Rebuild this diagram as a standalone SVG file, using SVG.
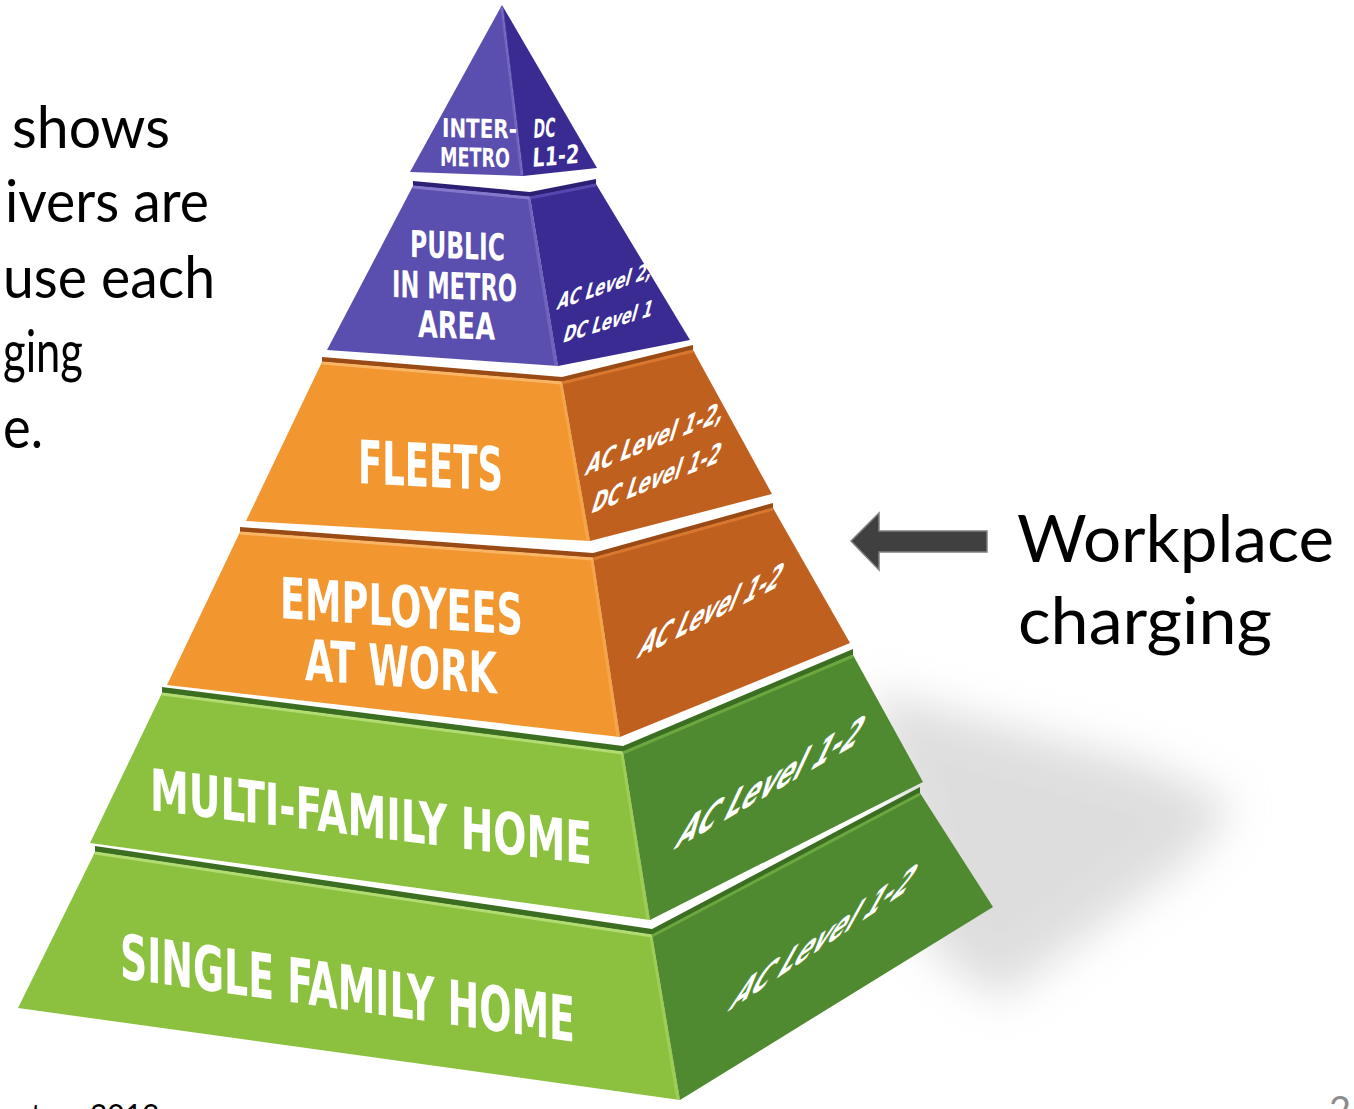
<svg xmlns="http://www.w3.org/2000/svg" width="1354" height="1109" viewBox="0 0 1354 1109">
<defs>
<style>
.lbl{font-family:"Liberation Sans Narrow","DejaVu Sans Condensed","Roboto","Liberation Sans",sans-serif;font-weight:bold;font-stretch:condensed;fill:#ffffff}
.body{font-family:Lato,"Open Sans","Liberation Sans",sans-serif;fill:#000000}
.pf{fill:#5a4eae}.pr{fill:#3a2b93}.pt{fill:#2c2075}
.of{fill:#f2962f}.or{fill:#c0601f}.ot{fill:#9a4a14}
.gf{fill:#8cc13f}.gr{fill:#4f8a30}.gt{fill:#3c6e22}
.hl{fill:none;stroke-width:3;stroke-linejoin:round}
.ridge{fill:none;stroke-width:3;opacity:.45}
</style>
<filter id="blur" x="-30%" y="-30%" width="160%" height="160%"><feGaussianBlur stdDeviation="22"/></filter>
</defs>
<rect width="1354" height="1109" fill="#ffffff"/>

<g id="shadow">
<polygon points="870,690 1150,765 1235,805 1190,860 1000,1000 930,950" fill="#bdbdbd" opacity="0.5" filter="url(#blur)"/>
</g>

<g id="tier-singlefamily">
<polygon class="gt" points="95,846 652,929 920,787 920,793 652,935 95,852"/>
<polygon class="gf" points="95,852 652,935 680,1100 18,1008"/>
<polygon class="gr" points="652,935 920,793 993,907 680,1100"/>
<polyline class="hl" stroke="#b2db72" points="95,853 652,936"/>
<polyline class="hl" stroke="#6aa83f" points="652,936 920,794"/>
<line class="ridge" stroke="#b2db72" x1="651" y1="937" x2="678" y2="1100"/>
<text class="lbl" font-size="50" textLength="215" lengthAdjust="spacingAndGlyphs" transform="translate(727,1012) matrix(0.829,-0.5592,-0.4848,0.8746,0,0)">AC Level 1-2</text>
<text class="lbl" font-size="62" textLength="455" lengthAdjust="spacingAndGlyphs" transform="translate(120,978) skewY(8)">SINGLE FAMILY HOME</text>
</g>

<g id="tier-multifamily">
<polygon class="gt" points="162,687 623,746 853,649 853,655 623,752 162,693"/>
<polygon class="gf" points="162,693 623,752 650,920 90,843"/>
<polygon class="gr" points="623,752 853,655 923,782 650,920"/>
<polyline class="hl" stroke="#b2db72" points="162,694 623,753"/>
<polyline class="hl" stroke="#6aa83f" points="623,753 853,656"/>
<line class="ridge" stroke="#b2db72" x1="622" y1="754" x2="648" y2="920"/>
<text class="lbl" font-size="58" textLength="442" lengthAdjust="spacingAndGlyphs" transform="translate(150,810) skewY(7)">MULTI-FAMILY HOME</text>
<text class="lbl" font-size="50" textLength="210" lengthAdjust="spacingAndGlyphs" transform="translate(673,850) matrix(0.866,-0.5,-0.4226,0.9063,0,0)">AC Level 1-2</text>
</g>

<g id="tier-employees">
<polygon class="ot" points="240,527 593,553 773,503 773,508 593,558 240,532"/>
<polygon class="of" points="240,532 593,558 620,737 167,685"/>
<polygon class="or" points="593,558 773,508 850,643 620,737"/>
<polyline class="hl" stroke="#f9b565" points="240,533 593,559"/>
<polyline class="hl" stroke="#d9772e" points="593,559 773,509"/>
<line class="ridge" stroke="#f9b565" x1="592" y1="560" x2="618" y2="737"/>
<text class="lbl" font-size="57" textLength="243" lengthAdjust="spacingAndGlyphs" transform="translate(280,618) skewY(4)">EMPLOYEES</text>
<text class="lbl" font-size="57" textLength="192" lengthAdjust="spacingAndGlyphs" transform="translate(305,680) skewY(4)">AT WORK</text>
<text class="lbl" font-size="40" textLength="158" lengthAdjust="spacingAndGlyphs" transform="translate(636,659) matrix(0.891,-0.454,-0.3746,0.9272,0,0)">AC Level 1-2</text>
</g>

<g id="tier-fleets">
<polygon class="ot" points="322,357 562,377 693,345 693,350 562,382 322,362"/>
<polygon class="of" points="322,362 562,382 590,541 246,521"/>
<polygon class="or" points="562,382 693,350 772,494 590,541"/>
<polyline class="hl" stroke="#f9b565" points="322,363 562,383"/>
<polyline class="hl" stroke="#d9772e" points="562,383 693,351"/>
<line class="ridge" stroke="#f9b565" x1="561" y1="384" x2="588" y2="541"/>
<text class="lbl" font-size="60" textLength="145" lengthAdjust="spacingAndGlyphs" transform="translate(358,483) skewY(3)">FLEETS</text>
<text class="lbl" font-size="31" textLength="148" lengthAdjust="spacingAndGlyphs" transform="translate(584,476) matrix(0.9272,-0.3746,-0.2924,0.9563,0,0)">AC Level 1-2,</text>
<text class="lbl" font-size="31" textLength="138" lengthAdjust="spacingAndGlyphs" transform="translate(590,514) matrix(0.9272,-0.3746,-0.2924,0.9563,0,0)">DC Level 1-2</text>
</g>

<g id="tier-public">
<polygon class="pt" points="413,181 530,192 596,179 596,184 530,197 413,186"/>
<polygon class="pf" points="413,186 530,197 558,366 327,350"/>
<polygon class="pr" points="530,197 596,184 690,340 558,366"/>
<polyline class="hl" stroke="#8478cc" points="413,187 530,198"/>
<polyline class="hl" stroke="#5646b0" points="530,198 596,185"/>
<line class="ridge" stroke="#8a7fd0" x1="529" y1="199" x2="556" y2="366"/>
<text class="lbl" font-size="37" textLength="95" lengthAdjust="spacingAndGlyphs" transform="translate(410,257) skewY(2)">PUBLIC</text>
<text class="lbl" font-size="37" textLength="125" lengthAdjust="spacingAndGlyphs" transform="translate(392,297) skewY(2)">IN METRO</text>
<text class="lbl" font-size="37" textLength="77" lengthAdjust="spacingAndGlyphs" transform="translate(418,337) skewY(2)">AREA</text>
<text class="lbl" font-size="24" textLength="100" lengthAdjust="spacingAndGlyphs" transform="translate(556,310) matrix(0.9455,-0.3256,-0.2588,0.9659,0,0)">AC Level 2,</text>
<text class="lbl" font-size="24" textLength="93" lengthAdjust="spacingAndGlyphs" transform="translate(562,343) matrix(0.9563,-0.2924,-0.2588,0.9659,0,0)">DC Level 1</text>
</g>

<g id="tier-intermetro">
<polygon class="pf" points="502,5 410,172 523,176"/>
<polygon class="pr" points="502,5 523,176 597,168"/>
<line class="ridge" stroke="#8a7fd0" x1="502" y1="8" x2="522" y2="175"/>
<text class="lbl" font-size="26" textLength="75" lengthAdjust="spacingAndGlyphs" transform="translate(442,137) skewY(1)">INTER-</text>
<text class="lbl" font-size="26" textLength="70" lengthAdjust="spacingAndGlyphs" transform="translate(440,166) skewY(1)">METRO</text>
<text class="lbl" font-size="26" textLength="22" lengthAdjust="spacingAndGlyphs" transform="translate(533,138) matrix(0.9976,-0.0698,-0.0523,0.9986,0,0)">DC</text>
<text class="lbl" font-size="26" textLength="47" lengthAdjust="spacingAndGlyphs" transform="translate(532,167) matrix(0.9962,-0.0872,-0.0523,0.9986,0,0)">L1-2</text>
</g>

<g id="connectors">
<polygon points="851,541 879,513 879,531 987,531 987,552 879,552 879,570" fill="#404040" stroke="#808080" stroke-width="1.5" stroke-linejoin="miter"/>
</g>

<g id="callout">
<text class="body" font-size="66" x="1017" y="562" textLength="317" lengthAdjust="spacingAndGlyphs">Workplace</text>
<text class="body" font-size="66" x="1018" y="644" textLength="254" lengthAdjust="spacingAndGlyphs">charging</text>
</g>

<g id="intro-text">
<text class="body" font-size="58" x="12" y="148" textLength="158" lengthAdjust="spacingAndGlyphs">shows</text>
<text class="body" font-size="58" x="5" y="222" textLength="204" lengthAdjust="spacingAndGlyphs">ivers are</text>
<text class="body" font-size="58" x="3" y="298" textLength="212" lengthAdjust="spacingAndGlyphs">use each</text>
<text class="body" font-size="58" x="3" y="372" textLength="80" lengthAdjust="spacingAndGlyphs">ging</text>
<text class="body" font-size="58" x="3" y="448" textLength="40" lengthAdjust="spacingAndGlyphs">e.</text>
</g>

<g id="footer">
<text class="body" font-size="30" x="31" y="1126">ton, 2013</text>
<text class="body" font-size="38" x="1329" y="1124" style="fill:#8c8c8c">2</text>
</g>
</svg>
